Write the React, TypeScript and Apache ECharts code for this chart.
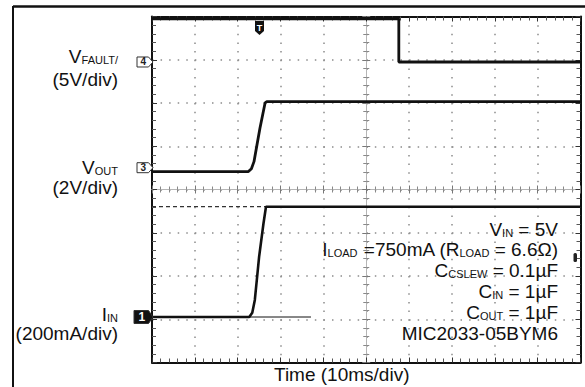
import React, { useEffect, useRef } from 'react';
import * as echarts from 'echarts';

// ---------- data ----------
// time axis in ms (10 ms/div, 10 divisions)
const timeDivs = 10;
const msPerDiv = 10;
const yDivs = 8;

// CH4: V_FAULT/ (5 V/div)
const faultT = [0, 57.6, 57.6, 100];
const faultV = [5, 5, 0, 0];
// CH3: V_OUT (2 V/div)
const voutT = [0, 22.5, 23.2, 23.8, 25.2, 26.4, 26.8, 100];
const voutV = [-0.18, -0.18, -0.05, 0.28, 1.84, 3.0, 3.06, 3.06];
// CH1: I_IN (200 mA/div)
const iinT = [0, 22.7, 23.4, 24.0, 25.0, 26.0, 26.6, 100];
const iinMA = [0, 0, 20, 79, 279, 430, 510, 510];
// I_IN reference (thin) and cursor (dashed)
const iinRefT = [22.7, 37.1];
const iinRefMA = [0, 0];
const iinCursorT = [0, 26.6];
const iinCursorMA = [510, 510];

// channel ground offsets (in divisions from bottom) and scale per division
const ch4Offset = 6.948;
const ch4PerDiv = 5;
const ch3Offset = 4.504;
const ch3PerDiv = 2;
const ch1Offset = 1.052;
const ch1PerDiv = 200;

const leftLabels = [
  { text: '{m|V}{s|FAULT/}', y: 56.5 },
  { text: '{m|(5V/div)}', y: 79 },
  { text: '{m|V}{s|OUT}', y: 167 },
  { text: '{m|(2V/div)}', y: 187 },
  { text: '{m|I}{s|IN}', y: 314.5 },
  { text: '{m|(200mA/div)}', y: 333.5 },
];

const noteLines = [
  '{m|V}{s|IN}{m| = 5V}',
  '{m|I}{s|LOAD}{m| =750mA (R}{s|LOAD}{m| = 6.6Ω)}',
  '{m|C}{s|CSLEW}{m| = 0.1µF}',
  '{m|C}{s|IN}{m| = 1µF}',
  '{m|C}{s|OUT}{m| = 1µF}',
  '{m|MIC2033-05BYM6}',
];

// ---------- layout ----------
const GRID = { left: 152, top: 16.5, width: 428.5, height: 346 };
const FONT = '"Liberation Sans", Arial, Helvetica, sans-serif';
const divH = GRID.height / yDivs;

const toDiv = (ts: number[], vs: number[], offset: number, perDiv: number) =>
  ts.map((t, i) => [t, offset + vs[i] / perDiv]);

const rich = {
  m: { fontSize: 19, lineHeight: 18, fontFamily: FONT, fill: '#111' },
  s: { fontSize: 11, lineHeight: 4, fontFamily: FONT, fill: '#111', verticalAlign: 'bottom' },
};

function xAx(position: string, offset: number, inside: boolean, frame: boolean, split: boolean) {
  return {
    type: 'value',
    min: 0,
    max: timeDivs * msPerDiv,
    interval: msPerDiv,
    position,
    offset,
    axisLine: { show: true, onZero: false, lineStyle: { color: frame ? '#111' : '#b5b5b5', width: frame ? 2 : 1 } },
    axisTick: { show: true, inside, length: frame ? 5 : 4, lineStyle: { color: frame ? '#333' : '#777', width: 1 } },
    minorTick: { show: true, splitNumber: 5, length: frame ? 4 : 3, lineStyle: { color: frame ? '#555' : '#888', width: 1 } },
    axisLabel: { show: false },
    splitLine: { show: split, lineStyle: { color: '#8c8c8c', width: 1.5, type: [1.5, divH / 5 - 1.5] } },
  };
}
function yAx(position: string, offset: number, inside: boolean, frame: boolean, split: boolean) {
  return {
    type: 'value',
    min: 0,
    max: yDivs,
    interval: 1,
    position,
    offset,
    axisLine: { show: true, onZero: false, lineStyle: { color: frame ? '#111' : '#b5b5b5', width: frame ? 2 : 1 } },
    axisTick: { show: true, inside, length: frame ? 5 : 4, lineStyle: { color: frame ? '#333' : '#777', width: 1 } },
    minorTick: { show: true, splitNumber: 5, length: frame ? 4 : 3, lineStyle: { color: frame ? '#555' : '#888', width: 1 } },
    axisLabel: { show: false },
    splitLine: { show: split, lineStyle: { color: '#8c8c8c', width: 1.5, type: [1.5, GRID.width / timeDivs / 5 - 1.5] } },
  };
}

function chMarker(y: number, label: string, filled: boolean) {
  const x0 = filled ? 134 : 137;
  const x1 = 148.5;
  const tip = 153;
  const h = filled ? 6.5 : 5;
  return [
    {
      type: 'polygon',
      shape: { points: [[x0, y - h], [x1, y - h], [tip, y], [x1, y + h], [x0, y + h]] },
      style: { fill: filled ? '#111' : '#fff', stroke: '#333', lineWidth: 1 },
      z: 100,
    },
    {
      type: 'text',
      style: {
        text: label, x: (x0 + x1) / 2 + 0.5, y, align: 'center', verticalAlign: 'middle',
        fontSize: filled ? 12 : 10, fontWeight: 'bold', fontFamily: FONT, fill: filled ? '#fff' : '#222',
      },
      z: 101,
    },
  ];
}

export default function App() {
  const ref = useRef<HTMLDivElement>(null);
  useEffect(() => {
    if (!ref.current) return;
    const chart = echarts.init(ref.current, undefined, { renderer: 'svg' });
    const yPix = (offset: number) => GRID.top + (yDivs - offset) * divH;

    const graphic: any[] = [
      // outer frame (left & top)
      { type: 'line', shape: { x1: 13, y1: 6.5, x2: 585, y2: 6.5 }, style: { stroke: '#111', lineWidth: 2.5 } },
      { type: 'line', shape: { x1: 13, y1: 6, x2: 13, y2: 387 }, style: { stroke: '#111', lineWidth: 2 } },
      ...chMarker(yPix(ch4Offset), '4', false),
      ...chMarker(yPix(ch3Offset), '3', false),
      ...chMarker(yPix(ch1Offset), '1', true),
      // trigger position marker
      {
        type: 'polygon',
        shape: { points: [[255, 21], [264, 21], [264, 31], [259.5, 35], [255, 31]] },
        style: { fill: '#111' },
        z: 100,
      },
      {
        type: 'text',
        style: { text: 'T', x: 259.5, y: 27.5, align: 'center', verticalAlign: 'middle', fontSize: 9, fontWeight: 'bold', fontFamily: FONT, fill: '#fff' },
        z: 101,
      },
      // trigger level marker at right
      { type: 'rect', shape: { x: 573.5, y: 253, width: 3.5, height: 9, r: 1.5 }, style: { fill: '#222' }, z: 100 },
      ...leftLabels.map((l) => ({
        type: 'text',
        style: { text: l.text, rich, x: 118, y: l.y, align: 'right', verticalAlign: 'middle' },
      })),
      ...noteLines.map((t, i) => ({
        type: 'text',
        style: { text: t, rich, x: 558, y: 229 + 20.85 * i, align: 'right', verticalAlign: 'middle' },
        z: 50,
      })),
      {
        type: 'text',
        style: { text: 'Time (10ms/div)', x: 274, y: 374, align: 'left', verticalAlign: 'middle', fontSize: 19, fontFamily: FONT, fill: '#111' },
      },
    ];

    const trace = (data: number[][], width = 2.6) => ({
      type: 'line',
      xAxisIndex: 0,
      yAxisIndex: 0,
      data,
      symbol: 'none',
      silent: true,
      lineStyle: { color: '#111', width },
      z: 10,
    });

    chart.setOption({
      animation: false,
      backgroundColor: '#fff',
      grid: { left: GRID.left, top: GRID.top, width: GRID.width, height: GRID.height, containLabel: false },
      xAxis: [
        xAx('bottom', 0, true, true, true),
        xAx('top', 0, true, true, false),
        xAx('bottom', -GRID.height / 2, true, false, false),
        xAx('bottom', -GRID.height / 2, false, false, false),
      ],
      yAxis: [
        yAx('left', 0, true, true, true),
        yAx('right', 0, true, true, false),
        yAx('left', -GRID.width / 2, true, false, false),
        yAx('left', -GRID.width / 2, false, false, false),
      ],
      series: [
        trace(toDiv(faultT, faultV, ch4Offset, ch4PerDiv), 2.8),
        trace(toDiv(voutT, voutV, ch3Offset, ch3PerDiv), 2.8),
        trace(toDiv(iinT, iinMA, ch1Offset, ch1PerDiv), 2.6),
        trace(toDiv(iinRefT, iinRefMA, ch1Offset, ch1PerDiv), 1),
        {
          ...trace(toDiv(iinCursorT, iinCursorMA, ch1Offset, ch1PerDiv), 1.2),
          lineStyle: { color: '#333', width: 1.2, type: [4, 3] },
          z: 5,
        },
      ],
      graphic,
    });
    return () => chart.dispose();
  }, []);
  return (
    <div
      ref={ref}
      style={{ position: 'fixed', left: 0, top: 0, width: 585, height: 387, background: '#fff' }}
    />
  );
}
